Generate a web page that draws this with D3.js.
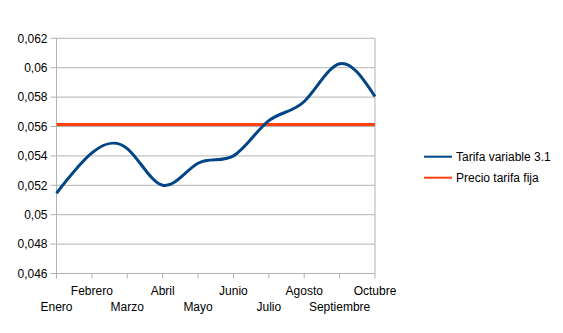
<!DOCTYPE html>
<html>
<head>
<meta charset="utf-8">
<script src="https://cdn.jsdelivr.net/npm/d3@7"></script>
<style>
  body { margin: 0; background: #fff; }
  text { font-family: "Liberation Sans", Arial, sans-serif; font-size: 12px; fill: #000; }
</style>
</head>
<body>
<svg id="chart" width="563" height="333"></svg>
<script>
const categories = ["Enero","Febrero","Marzo","Abril","Mayo","Junio","Julio","Agosto","Septiembre","Octubre"];
const tarifaVariable = [0.05146, 0.0542, 0.0545, 0.0520, 0.0535, 0.0540, 0.0564, 0.0577, 0.06027, 0.05804];
const precioFijo = [0.05614, 0.05614, 0.05614, 0.05614, 0.05614, 0.05614, 0.05614, 0.05614, 0.05614, 0.05614];
const yTicks = [0.046, 0.048, 0.05, 0.052, 0.054, 0.056, 0.058, 0.06, 0.062];
const yTickLabels = ["0,046","0,048","0,05","0,052","0,054","0,056","0,058","0,06","0,062"];
const seriesNames = ["Tarifa variable 3.1", "Precio tarifa fija"];
const seriesColors = ["#004586", "#ff420e"];

const svg = d3.select("#chart");
const pLeft = 56.5, pRight = 375, pTop = 38.3, pBottom = 273.5;

const x = d3.scalePoint().domain(categories).range([pLeft, pRight]).padding(0);
const y = d3.scaleLinear().domain([0.046, 0.062]).range([pBottom, pTop]);

const grid = "#b3b3b3";

// horizontal gridlines (with left tick extension)
svg.append("g").selectAll("line").data(yTicks).join("line")
  .attr("x1", pLeft - 6).attr("x2", pRight)
  .attr("y1", d => y(d)).attr("y2", d => y(d))
  .attr("stroke", grid).attr("stroke-width", 1);

// y axis line & right border
svg.append("line").attr("x1", pLeft).attr("x2", pLeft).attr("y1", pTop).attr("y2", pBottom)
  .attr("stroke", grid);
svg.append("line").attr("x1", pRight).attr("x2", pRight).attr("y1", pTop).attr("y2", pBottom)
  .attr("stroke", grid);

// x ticks
svg.append("g").selectAll("line").data(categories).join("line")
  .attr("x1", d => x(d)).attr("x2", d => x(d))
  .attr("y1", pBottom).attr("y2", pBottom + 5)
  .attr("stroke", grid);

// y labels
svg.append("g").selectAll("text").data(yTicks).join("text")
  .attr("x", 47.5).attr("y", d => y(d)).attr("dy", "0.35em")
  .attr("text-anchor", "end")
  .text((d, i) => yTickLabels[i]);

// x labels (staggered)
svg.append("g").selectAll("text").data(categories).join("text")
  .attr("x", d => x(d))
  .attr("y", (d, i) => i % 2 === 0 ? 310.5 : 294.8)
  .attr("text-anchor", "middle")
  .text(d => d);

// lines
const line = d3.line().x((d, i) => x(categories[i])).y(d => y(d)).curve(d3.curveNatural);
svg.append("path").datum(precioFijo).attr("d", d3.line().x((d, i) => x(categories[i])).y(d => y(d)))
  .attr("fill", "none").attr("stroke", seriesColors[1]).attr("stroke-width", 3);
svg.append("path").datum(tarifaVariable).attr("d", line)
  .attr("fill", "none").attr("stroke", seriesColors[0]).attr("stroke-width", 3)
  .attr("stroke-linejoin", "round");

// legend
const lg = svg.append("g");
seriesNames.forEach((name, i) => {
  const ly = 156.7 + i * 21;
  lg.append("line").attr("x1", 424).attr("x2", 452).attr("y1", ly).attr("y2", ly)
    .attr("stroke", seriesColors[i]).attr("stroke-width", 2);
  lg.append("text").attr("x", 456).attr("y", ly).attr("dy", "0.35em").text(name);
});
</script>
</body>
</html>
